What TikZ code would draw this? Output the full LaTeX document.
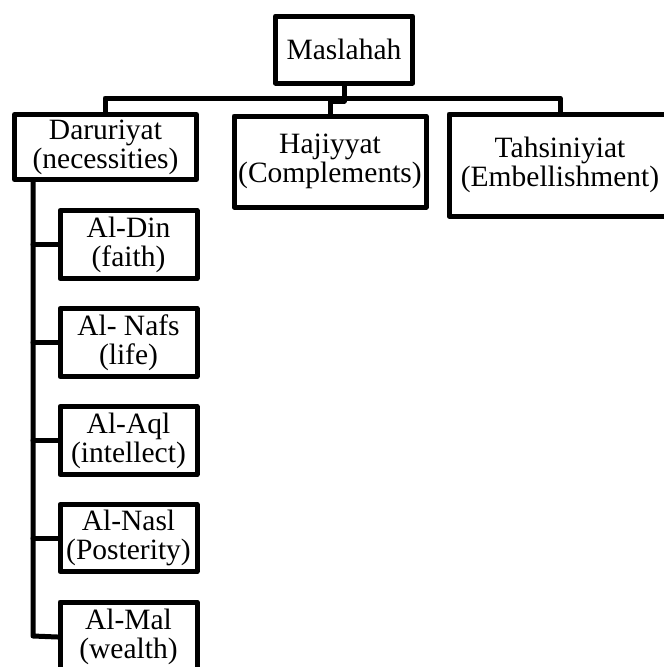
\documentclass[tikz,border=0pt]{standalone}
\usepackage{fontspec}
\setmainfont{Liberation Serif}
\begin{document}
\begin{tikzpicture}[x=1pt,y=-1pt,
  box/.style={draw=black, line width=5pt, line join=round, inner sep=0pt, align=center,
    font=\fontsize{29.5}{29}\selectfont, anchor=center},
  conn/.style={draw=black, line width=5pt, line join=round, line cap=round}]
\useasboundingbox (0,0) rectangle (664,667);
\clip (0,0) rectangle (664,667);
% top
\node[box, minimum width=137pt, minimum height=67pt] (mas) at (344,49.5) {Maslahah};
% level 2
\node[box, minimum width=182pt, minimum height=65pt] (dar) at (105.5,147) {Daruriyat\\(necessities)};
\node[box, minimum width=192pt, minimum height=91pt] (haj) at (330,161.5) {Hajiyyat\\(Complements)};
\node[box, minimum width=222pt, minimum height=102pt] (tah) at (560,165) {Tahsiniyiat\\(Embellishment)};
% level 3
\node[box, minimum width=137pt, minimum height=68pt] (din) at (128.5,244.5) {Al-Din\\(faith)};
\node[box, minimum width=137pt, minimum height=68pt] (nafs) at (128.5,342.5) {Al- Nafs\\(life)};
\node[box, minimum width=137pt, minimum height=68pt] (aql) at (128.5,440.5) {Al-Aql\\(intellect)};
\node[box, minimum width=137pt, minimum height=67pt] (nasl) at (128.5,538) {Al-Nasl\\(Posterity)};
\node[box, minimum width=137pt, minimum height=70pt] (mal) at (128.5,637) {Al-Mal\\(wealth)};
% connectors
\coordinate (bar) at (344,98);
\draw[conn] (mas.south -| bar) -- (344,101) -- (330,101) -- (haj.north -| 330,0);
\draw[conn] (dar.north -| 105,0) -- (105,98) -- (560,98) -- (tah.north -| 560,0);
\draw[conn] (dar.south -| 33,0) -- (33,636) -- (mal.west);
\draw[conn] (33,0 |- din.west) -- (din.west);
\draw[conn] (33,0 |- nafs.west) -- (nafs.west);
\draw[conn] (33,0 |- aql.west) -- (aql.west);
\draw[conn] (33,0 |- nasl.west) -- (nasl.west);
\end{tikzpicture}
\end{document}
